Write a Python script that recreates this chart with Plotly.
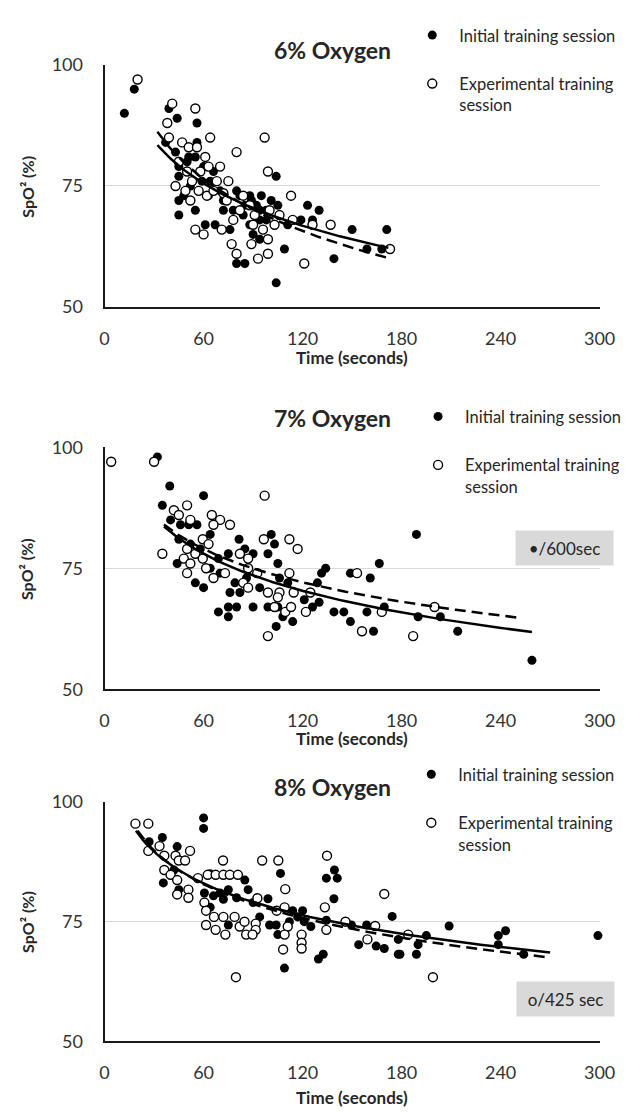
import numpy as np
import plotly.graph_objects as go

# ---------------- data ----------------
# Panel 1: 6% Oxygen
p1_init_x = [12, 18, 39, 44, 56, 37, 43, 45, 50, 55, 56, 51, 60, 66, 45, 45, 45, 55, 61, 67, 72, 76, 80, 82, 88, 92, 94, 98, 90, 94, 80, 85, 104, 105, 109, 104, 119, 123, 126, 130, 139, 150, 159, 171, 168, 111, 101, 59, 64, 72, 78, 84, 88, 94, 98, 48, 52, 63, 70, 85, 89, 95]
p1_init_y = [90, 95, 91, 89, 88, 84, 82, 79, 80, 81, 84, 81, 79, 78, 77, 72, 69, 70, 67, 67, 70, 66, 74, 73, 73, 71, 70, 70, 65, 64, 59, 59, 77, 71, 62, 55, 68, 71, 68, 70, 60, 66, 62, 66, 62, 67, 72, 76, 76, 72, 70, 69, 67, 68, 68, 73, 75, 73, 74, 71, 72, 73]
p1_exp_x = [20, 41, 55, 38, 64, 97, 80, 99, 113, 39, 47, 51, 56, 61, 63, 70, 75, 43, 49, 52, 57, 62, 66, 72, 55, 60, 71, 77, 80, 89, 93, 99, 99, 90, 96, 82, 88, 106, 114, 126, 137, 121, 173, 78, 103, 45, 50, 58, 53, 68, 74, 84, 91, 100]
p1_exp_y = [97, 92, 91, 88, 85, 85, 82, 78, 73, 85, 84, 83, 83, 81, 79, 79, 76, 75, 74, 72, 74, 73, 74, 73.5, 66, 65, 66, 63, 61, 63, 60, 61, 64, 67, 66, 70, 71, 69, 68, 67, 67, 59, 62, 68, 67, 80, 78, 78, 76, 76, 72, 73, 69, 70]

# Panel 2: 7% Oxygen
p2_init_x = [32, 39.5, 35, 60, 40, 51, 56, 45, 64, 81.5, 101, 103, 85, 90, 99, 105, 44, 55, 60, 69, 75, 79, 82, 76, 69, 75, 80, 75, 90, 94, 99, 104, 108, 114, 105, 111, 106, 121, 126, 130, 131.5, 134, 129, 139, 145, 149, 149, 161, 159, 163, 166.5, 169.5, 189, 190, 203.5, 214, 259, 46, 52, 58, 64, 70, 86]
p2_init_y = [98, 92, 88, 90, 85, 84, 84, 81, 82, 81, 82, 80, 79, 78, 78, 76, 76, 72, 71, 77, 78, 72, 70, 70, 66, 67, 67, 65, 67, 71, 67, 63, 65, 64, 67, 72, 73, 68.5, 67, 68, 74, 75, 72, 66, 66, 74, 64, 73, 66, 62, 76, 67, 82, 65, 65, 62, 56, 84, 80, 79, 75, 74, 73]
p2_exp_x = [4, 30, 97, 35, 42, 45, 50, 52, 65, 70, 76, 66, 96.5, 112, 117, 59.5, 63, 50, 55, 59.5, 48, 52, 50, 61.5, 66, 73, 82, 87, 87, 92.5, 84, 87, 99, 106, 105, 103, 109.5, 113, 99, 112, 114.6, 124.7, 122, 153, 156, 168, 187, 200]
p2_exp_y = [97, 97, 90, 78, 87, 86, 88, 85, 86, 85, 84, 84, 81, 81, 79, 81, 80, 79, 78, 77, 77, 76, 74, 75, 73, 74, 78, 77, 75, 74, 72, 71, 70, 70, 69, 67, 66, 67, 61, 74, 70, 70, 66, 74, 62, 66, 61, 67]

# Panel 3: 8% Oxygen
p3_init_x = [60, 60, 27, 35, 44, 42, 35.6, 45, 64, 60.5, 66, 70, 75, 85, 87, 64, 72, 75, 99, 106.6, 105, 109, 114, 120, 121, 125, 100, 104, 129.6, 132.5, 134.4, 139.3, 141, 139, 134.4, 149.6, 154, 158.8, 164.6, 169.5, 174.3, 178, 178, 208.8, 195, 179, 189, 190, 238.6, 243, 238.6, 254, 299, 80, 90, 94, 112, 117]
p3_init_y = [96.7, 94.5, 91.7, 92.6, 90.7, 85.8, 83.1, 81.7, 85, 81, 80.4, 81, 81.7, 83.7, 81.7, 78, 79.7, 74.3, 79.8, 85.1, 72.3, 65.3, 77.3, 77.3, 75, 74, 74.3, 74.3, 67.2, 68.2, 84.1, 85.8, 84.1, 79.8, 75.3, 74.3, 70.2, 74.3, 69.9, 69.4, 76.1, 71.3, 68.2, 74.1, 72.1, 68.2, 68.2, 70.2, 72.1, 73.1, 70.2, 68.2, 72.1, 80, 79, 76, 75, 76]
p3_exp_x = [18.7, 26.5, 26.5, 33.3, 36.2, 43, 45, 51.8, 48.8, 36.2, 40, 44, 50.8, 44, 50.8, 56.6, 62.5, 67.3, 72, 75.9, 80.8, 71.8, 95.5, 105.3, 134.8, 109.5, 92.6, 60.5, 61.5, 66.3, 72, 61.5, 67.3, 73.2, 78.8, 81.9, 84.8, 85.8, 91.6, 91.6, 89.7, 104.3, 109.1, 111, 109.1, 108.2, 119.4, 119.4, 119.4, 133.5, 134.4, 146, 159.3, 164, 169.5, 79.6, 184, 199]
p3_exp_y = [95.5, 95.5, 89.8, 90.8, 88.8, 88.8, 87.8, 89.8, 87.8, 85.8, 84.8, 83.7, 81.7, 80.7, 80, 84.1, 84.8, 84.8, 84.8, 84.8, 84.8, 87.8, 87.8, 87.8, 88.8, 81.8, 79.9, 79, 77.3, 76, 76, 74.3, 73.3, 72.3, 76, 74, 75, 72.3, 74.6, 73.3, 72.3, 77.3, 78, 74, 72.3, 69.2, 72.3, 70.6, 69.4, 78, 73.3, 75, 71.3, 74.1, 80.8, 63.4, 72.3, 63.4]

# Logarithmic trend lines y = a + b*ln(x)
trend_init_a = [127.2, 123.2, 122.3]
trend_init_b = [-12.62, -11.04, -9.6]
trend_init_range = [(32, 172), (36, 259), (19, 270)]
trend_exp_a = [139.9, 119.6, 124.5]
trend_exp_b = [-15.5, -9.92, -10.18]
trend_exp_range = [(32, 173), (36, 253), (20, 269)]

panel_titles = ["6% Oxygen", "7% Oxygen", "8% Oxygen"]
x_ticks = [0, 60, 120, 180, 240, 300]
y_ticks = [50, 75, 100]
legend_names = ["Initial training session", "Experimental training<br>session"]
box_notes = [None, "•/600sec", "o/425 sec"]

# ---------------- figure ----------------
W, H = 633, 1115
FONT = "Lato"
TXT = "#262626"

def px(x):
    return x / W

def py(y):
    return 1 - y / H

x_dom = [px(103), px(615)]
y_doms = [[py(301), py(54)], [py(691), py(444)], [py(1050), py(806)]]

panels = [
    (p1_init_x, p1_init_y, p1_exp_x, p1_exp_y),
    (p2_init_x, p2_init_y, p2_exp_x, p2_exp_y),
    (p3_init_x, p3_init_y, p3_exp_x, p3_exp_y),
]

fig = go.Figure()
legend_keys = ["legend", "legend2", "legend3"]

for i, (ix, iy, ex, ey) in enumerate(panels):
    xa = "x" if i == 0 else f"x{i+1}"
    ya = "y" if i == 0 else f"y{i+1}"
    fig.add_trace(go.Scatter(
        x=ix, y=iy, mode="markers", xaxis=xa, yaxis=ya,
        name=legend_names[0], legend=legend_keys[i], legendgroup=f"a{i}",
        marker=dict(color="black", size=9, line=dict(width=0)),
        cliponaxis=False))
    fig.add_trace(go.Scatter(
        x=ex, y=ey, mode="markers", xaxis=xa, yaxis=ya,
        name=legend_names[1], legend=legend_keys[i], legendgroup=f"b{i}",
        marker=dict(color="white", size=9, line=dict(color="black", width=1.4)),
        cliponaxis=False))
    lo, hi = trend_init_range[i]
    tx = np.linspace(lo, hi, 120)
    fig.add_trace(go.Scatter(
        x=tx, y=trend_init_a[i] + trend_init_b[i] * np.log(tx), mode="lines",
        xaxis=xa, yaxis=ya, showlegend=False, hoverinfo="skip",
        line=dict(color="black", width=2.5)))
    lo, hi = trend_exp_range[i]
    tx = np.linspace(lo, hi, 120)
    fig.add_trace(go.Scatter(
        x=tx, y=trend_exp_a[i] + trend_exp_b[i] * np.log(tx), mode="lines",
        xaxis=xa, yaxis=ya, showlegend=False, hoverinfo="skip",
        line=dict(color="black", width=2.5, dash="11px,6px")))

layout = dict(
    width=W, height=H,
    margin=dict(l=0, r=0, t=0, b=0),
    paper_bgcolor="white", plot_bgcolor="white",
    font=dict(family=FONT, color=TXT),
    showlegend=True,
)

for i in range(3):
    xk = "xaxis" if i == 0 else f"xaxis{i+1}"
    yk = "yaxis" if i == 0 else f"yaxis{i+1}"
    ya = "y" if i == 0 else f"y{i+1}"
    xa = "x" if i == 0 else f"x{i+1}"
    layout[xk] = dict(
        domain=x_dom, anchor=ya, range=[0, 300], tickvals=x_ticks,
        showgrid=False, zeroline=False, showline=True, linecolor="#1a1a1a",
        linewidth=2, ticks="", tickfont=dict(size=18, color="#333333"),
        ticklabelstandoff=14, fixedrange=True)
    layout[yk] = dict(
        domain=y_doms[i], anchor=xa, range=[50, 100], tickvals=y_ticks,
        showgrid=True, gridcolor="#d9d9d9", gridwidth=1, zeroline=False,
        showline=True, linecolor="#1a1a1a", linewidth=2, ticks="",
        tickfont=dict(size=18, color="#333333"), ticklabelstandoff=16,
        fixedrange=True)

legend_pos = [(414, 6), (420, 395), (413, 760)]
for i, (lx, ly) in enumerate(legend_pos):
    key = legend_keys[i]
    layout[key] = dict(
        x=px(lx), y=py(ly), xanchor="left", yanchor="top",
        bgcolor="rgba(0,0,0,0)", borderwidth=0,
        font=dict(size=16.5, color=TXT, family=FONT),
        traceorder="grouped", tracegroupgap=24, valign="top",
        itemwidth=44)

fig.update_layout(**layout)

annotations = []
title_y = [39, 414, 791]
xtitle_y = [352, 741, 1107]
ytitle_y = [178, 568, 928]
for i in range(3):
    annotations.append(dict(
        text=f"<b>{panel_titles[i]}</b>", x=px(339), y=py(title_y[i]),
        xref="paper", yref="paper", showarrow=False, xanchor="center",
        yanchor="middle", font=dict(size=23, color=TXT, family=FONT)))
    annotations.append(dict(
        text="<b>Time (seconds)</b>", x=px(359), y=py(xtitle_y[i]),
        xref="paper", yref="paper", showarrow=False, xanchor="center",
        yanchor="middle", font=dict(size=17, color=TXT, family=FONT)))
    annotations.append(dict(
        text="<b>SpO² (%)</b>", x=px(23), y=py(ytitle_y[i]), textangle=-90,
        xref="paper", yref="paper", showarrow=False, xanchor="center",
        yanchor="middle", font=dict(size=16, color=TXT, family=FONT)))

box_centers = [None, (578.5, 547), (579.5, 1007)]
for i in range(3):
    if box_notes[i] is None:
        continue
    cx, cy = box_centers[i]
    annotations.append(dict(
        text=box_notes[i], x=px(cx), y=py(cy), xref="paper", yref="paper",
        showarrow=False, xanchor="center", yanchor="middle",
        width=93, height=30, bgcolor="#d9d9d9", borderpad=2,
        font=dict(size=17, color=TXT, family=FONT)))

fig.update_layout(annotations=annotations)

fig.write_html("out.html", config={"displayModeBar": False},
               post_script="document.body.style.margin='0';")
